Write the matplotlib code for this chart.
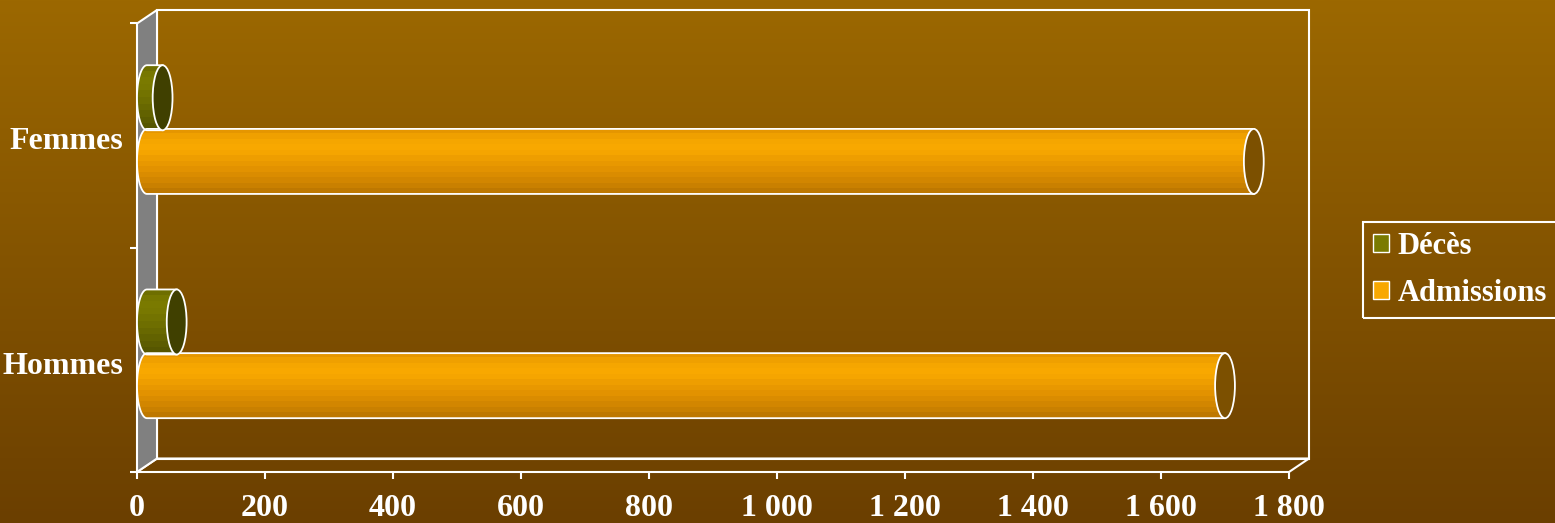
import numpy as np
import matplotlib.pyplot as plt
from matplotlib.patches import Ellipse, Polygon, Patch
from matplotlib.colors import LinearSegmentedColormap, ListedColormap
from matplotlib.ticker import FuncFormatter, FixedLocator

# ---------------- data ----------------
categories = ["Hommes", "Femmes"]
series = ["Décès", "Admissions"]
deces = [62, 40]
admissions = [1700, 1745]
x_max = 1800
x_ticks = list(range(0, 2000, 200))

# ---------------- style ----------------
W, H, DPI = 1555, 523, 100
FONT = "Liberation Serif"
FS = 23
LEG_FS = 22
WHITE = "white"

ORANGE_BANDS = ["#E59600", "#EFA000", "#F5A600", "#F8A800", "#F5A500", "#EE9E00",
                "#E89800", "#E29200", "#DA8C00", "#D28600", "#C98000", "#BE7800"]
GREEN_BANDS = ["#6E6E00", "#777700", "#7A7A00", "#787800", "#737300", "#6E6E00",
               "#686800", "#626200", "#5C5C00", "#565600"]
ORANGE_END = "#7C5000"
GREEN_END = "#404000"

fig = plt.figure(figsize=(W / DPI, H / DPI), dpi=DPI)

# background gradient
bg = fig.add_axes([0, 0, 1, 1], zorder=-10)
bg_cmap = LinearSegmentedColormap.from_list("bg", ["#6B3F00", "#9C6800"])
bg.imshow(np.linspace(1, 0, 256).reshape(-1, 1), cmap=bg_cmap, aspect="auto",
          extent=[0, 1, 0, 1])
bg.set_axis_off()

# main axes = front plane of the 3D box
left_px, right_px, top_px, bottom_px = 137, 1289, 23.5, 472
ax = fig.add_axes([left_px / W, 1 - bottom_px / H,
                   (right_px - left_px) / W, (bottom_px - top_px) / H])
ax.set_facecolor("none")
for s in ax.spines.values():
    s.set_visible(False)

DX = 20 / (right_px - left_px)
DY = 13.5 / (bottom_px - top_px)

# walls
wall_kw = dict(transform=ax.transAxes, clip_on=False, edgecolor=WHITE, linewidth=1.5)
ax.add_patch(Polygon([(DX, DY), (DX, 1 + DY), (1 + DX, 1 + DY), (1 + DX, DY)],
                     facecolor="none", zorder=1, **wall_kw))
ax.add_patch(Polygon([(0, 0), (1, 0), (1 + DX, DY), (DX, DY)],
                     facecolor="none", zorder=1, **wall_kw))
ax.add_patch(Polygon([(0, 0), (0, 1), (DX, 1 + DY), (DX, DY)],
                     facecolor="#808080", zorder=2, **wall_kw))

# cylinders
y_pos = np.arange(len(categories))
GROUP_SHIFT = 0.027
OFFSET = 0.142
BAR_H = 0.29
END_W = 31  # data units (about 20 px)


def cylinder(value, yc, bands, end_color):
    theta = np.linspace(np.pi / 2, 3 * np.pi / 2, 40)
    xs = END_W / 2 + END_W / 2 * np.cos(theta)
    ys = yc + BAR_H / 2 * np.sin(theta)
    verts = list(zip(xs, ys)) + [(value, yc - BAR_H / 2), (value, yc + BAR_H / 2)]
    body = Polygon(verts, closed=True, facecolor="none", edgecolor=WHITE,
                   linewidth=1.3, zorder=4, clip_on=False)
    ax.add_patch(body)
    grad = np.arange(len(bands)).reshape(-1, 1)
    im = ax.imshow(grad, cmap=ListedColormap(bands), aspect="auto", origin="upper",
                   interpolation="nearest",
                   extent=[0, value, yc - BAR_H / 2, yc + BAR_H / 2], zorder=3)
    im.set_clip_path(body)
    ax.add_patch(Ellipse((value, yc), END_W, BAR_H, facecolor=end_color,
                         edgecolor=WHITE, linewidth=1.3, zorder=5, clip_on=False))


for i in range(len(categories)):
    cylinder(admissions[i], y_pos[i] + GROUP_SHIFT - OFFSET, ORANGE_BANDS, ORANGE_END)
    cylinder(deces[i], y_pos[i] + GROUP_SHIFT + OFFSET, GREEN_BANDS, GREEN_END)

ax.set_xlim(0, x_max)
ax.set_ylim(-0.5, len(categories) - 0.5)

# ticks
ax.set_xticks(x_ticks)
ax.xaxis.set_major_formatter(FuncFormatter(lambda v, p: f"{int(v):,}".replace(",", " ")))
ax.tick_params(axis="x", colors=WHITE, length=5, width=1.5, pad=11)
ax.yaxis.set_major_locator(FixedLocator([-0.5, 0.5, 1.5]))
ax.yaxis.set_major_formatter(FuncFormatter(lambda v, p: ""))
ax.yaxis.set_minor_locator(FixedLocator(list(y_pos - 0.012)))
ax.set_yticklabels(categories, minor=True)
ax.tick_params(axis="y", which="major", colors=WHITE, length=5, width=1.5)
ax.tick_params(axis="y", which="minor", colors=WHITE, length=0, pad=10)
for lab in ax.get_xticklabels() + ax.get_yticklabels(minor=True):
    lab.set_fontfamily(FONT)
    lab.set_fontweight("bold")
    lab.set_fontsize(FS)
    lab.set_color(WHITE)

# legend
handles = [Patch(facecolor=GREEN_BANDS[2], edgecolor=WHITE),
           Patch(facecolor=ORANGE_BANDS[3], edgecolor=WHITE)]
leg = fig.legend(handles, series, loc="upper left",
                 bbox_to_anchor=(1363 / W, 1 - 222 / H),
                 prop=dict(family=FONT, weight="bold", size=LEG_FS), labelcolor=WHITE,
                 handlelength=0.52, handleheight=0.52, handletextpad=0.3,
                 borderpad=0.32, labelspacing=0.6, borderaxespad=0,
                 fancybox=False, framealpha=1)
leg.get_frame().set_facecolor("none")
leg.get_frame().set_edgecolor(WHITE)
leg.get_frame().set_linewidth(1.5)

fig.savefig("out.png", dpi=DPI)
